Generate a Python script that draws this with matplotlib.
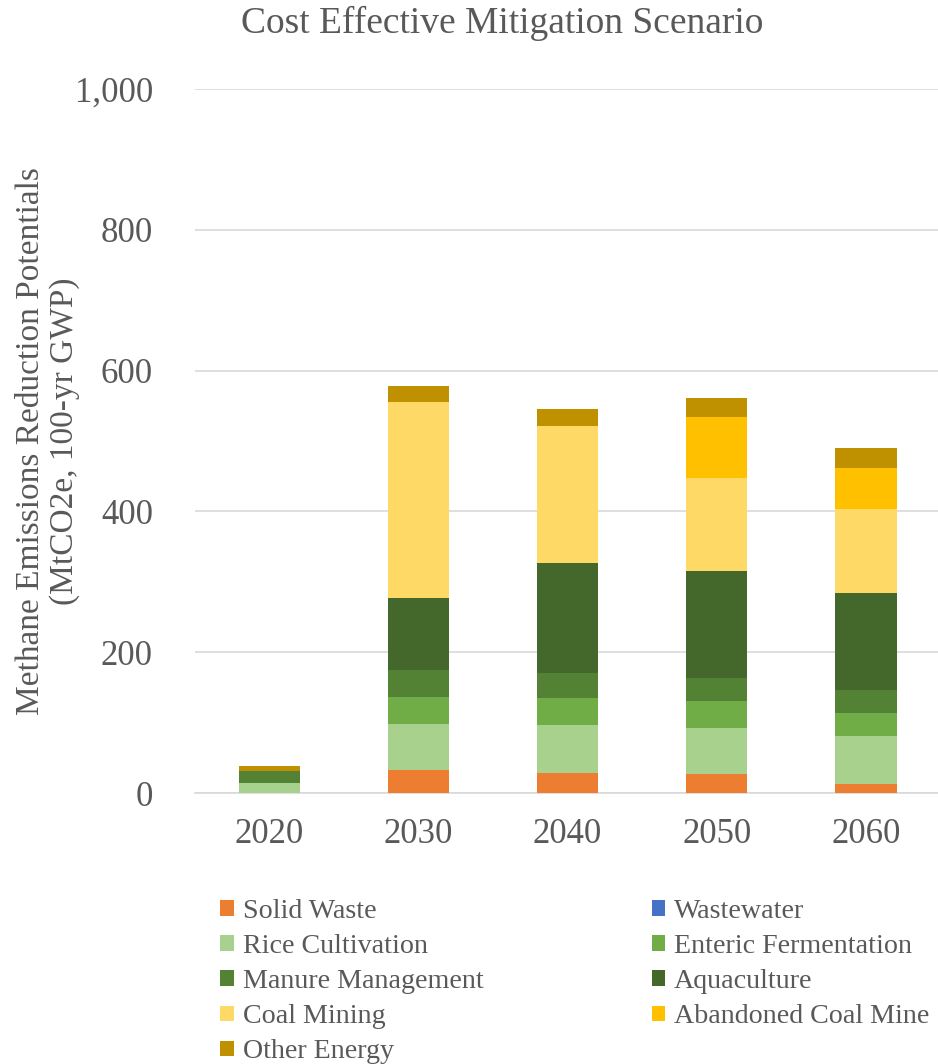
import numpy as np
import matplotlib.pyplot as plt
from matplotlib.patches import Patch

plt.rcParams['font.family'] = ['Liberation Serif', 'DejaVu Serif']

years = ['2020', '2030', '2040', '2050', '2060']

# reduction potentials by sector, MtCO2e (100-yr GWP)
solid_waste = [0, 32, 29, 27, 13]
wastewater = [0, 0, 0, 0, 0]
rice_cultivation = [14, 66, 67, 66, 68]
enteric_fermentation = [0, 39, 39, 38, 33]
manure_management = [17, 38, 35, 33, 32]
aquaculture = [0, 102, 156, 151, 138]
coal_mining = [0, 278, 195, 133, 120]
abandoned_coal_mine = [0, 0, 0, 86, 58]
other_energy = [8, 23, 25, 27, 28]

sectors = [
    ('Solid Waste', solid_waste, '#ED7D31'),
    ('Wastewater', wastewater, '#4472C4'),
    ('Rice Cultivation', rice_cultivation, '#A9D18E'),
    ('Enteric Fermentation', enteric_fermentation, '#70AD47'),
    ('Manure Management', manure_management, '#548235'),
    ('Aquaculture', aquaculture, '#44682C'),
    ('Coal Mining', coal_mining, '#FFD966'),
    ('Abandoned Coal Mine', abandoned_coal_mine, '#FFC000'),
    ('Other Energy', other_energy, '#BF9000'),
]

text_color = '#595959'

fig = plt.figure(figsize=(9.38, 10.64), dpi=100)
ax = fig.add_axes([194.6 / 938, 271 / 1064, 746 / 938, 704 / 1064])

x = np.arange(len(years))
bottom = np.zeros(len(years))
handles = {}
for name, vals, col in sectors:
    vals = np.array(vals, dtype=float)
    ax.bar(x, vals, width=0.41, bottom=bottom, color=col, zorder=3)
    bottom += vals
    handles[name] = Patch(facecolor=col, label=name)

ax.set_xlim(-0.5, len(years) - 0.5)
ax.set_ylim(0, 1000)
ax.set_yticks(range(0, 1001, 200))
ax.set_yticklabels(['{:,}'.format(v) for v in range(0, 1001, 200)])
ax.set_xticks(x)
ax.set_xticklabels(years)
ax.tick_params(axis='both', length=0, labelsize=25, colors=text_color)
ax.tick_params(axis='x', pad=18)
ax.tick_params(axis='y', pad=30)
ax.grid(axis='y', color='#D9D9D9', linewidth=1.2, zorder=0)
for s in ['top', 'right', 'left']:
    ax.spines[s].set_visible(False)
ax.spines['bottom'].set_color('#D9D9D9')
ax.spines['bottom'].set_linewidth(1.2)

ax.set_ylabel('Methane Emissions Reduction Potentials\n(MtCO2e, 100-yr GWP)',
              fontsize=24, color=text_color, linespacing=1.14)
ax.yaxis.set_label_coords(-0.1536, 0.5)
fig.text(0.535, 0.978, 'Cost Effective Mitigation Scenario', ha='center', va='center',
         fontsize=27, color=text_color)

# legend fills column by column, so list left column first
order = ['Solid Waste', 'Rice Cultivation', 'Manure Management', 'Coal Mining', 'Other Energy',
         'Wastewater', 'Enteric Fermentation', 'Aquaculture', 'Abandoned Coal Mine']
leg = fig.legend([handles[n] for n in order], order, ncol=2, loc='upper left',
                 bbox_to_anchor=(0.235, 0.155), frameon=False, fontsize=20.2,
                 handlelength=0.49, handleheight=0.49, handletextpad=0.3,
                 columnspacing=6.0, labelspacing=0.36, borderaxespad=0, borderpad=0)
for t in leg.get_texts():
    t.set_color(text_color)

fig.savefig('out.png', dpi=100)
